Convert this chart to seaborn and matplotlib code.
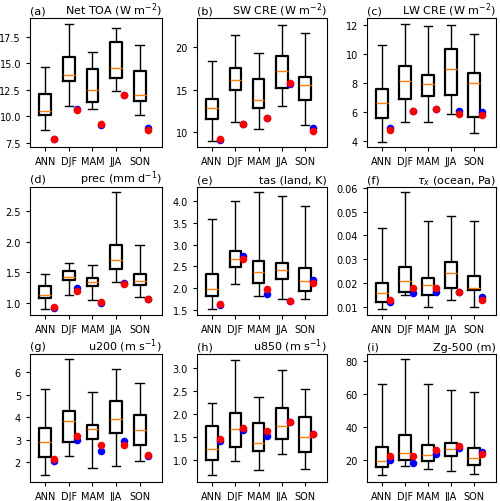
#!/usr/bin/env python3
"""Seasonal spread of model biases: box = ensemble, dots = two reference runs."""

import numpy as np
import pandas as pd
import matplotlib
matplotlib.use('Agg')
import matplotlib.pyplot as plt
import seaborn as sns

seasons = ['ANN', 'DJF', 'MAM', 'JJA', 'SON']

# box stats per season: [whisker low, q1, median, q3, whisker high]
net_toa_stats = [[8.65, 10.06, 10.53, 12.10, 14.62], [10.94, 13.36, 13.93, 15.63, 18.70],
                 [10.63, 11.29, 12.48, 14.47, 16.04], [12.42, 13.62, 14.56, 16.98, 18.30],
                 [10.06, 11.42, 12.01, 14.31, 16.76]]
net_toa_blue = [7.86, 10.70, 9.18, 12.04, 8.90]
net_toa_red = [7.86, 10.55, 9.28, 11.98, 8.65]

sw_cre_stats = [[9.00, 11.55, 12.92, 13.90, 18.33], [11.24, 15.00, 16.18, 17.55, 21.47],
                [10.37, 12.84, 13.78, 16.25, 19.27], [13.12, 15.27, 17.20, 18.92, 22.65],
                [10.88, 13.75, 15.55, 16.53, 21.63]]
sw_cre_blue = [9.12, 10.96, 11.65, 15.63, 10.49]
sw_cre_red = [9.20, 10.96, 11.70, 15.75, 10.18]

lw_cre_stats = [[3.98, 5.63, 6.62, 7.56, 10.64], [5.33, 6.90, 8.14, 9.15, 12.05],
                [5.33, 7.08, 7.95, 8.53, 11.88], [5.90, 7.15, 8.99, 10.34, 11.98],
                [4.60, 5.70, 8.02, 8.67, 11.36]]
lw_cre_blue = [4.92, 6.09, 6.20, 6.05, 6.02]
lw_cre_red = [4.76, 6.09, 6.20, 5.90, 5.79]

prec_stats = [[0.90, 1.08, 1.13, 1.27, 1.48], [1.12, 1.37, 1.43, 1.52, 1.66],
              [1.04, 1.27, 1.34, 1.41, 1.62], [1.34, 1.56, 1.71, 1.95, 2.82],
              [1.09, 1.29, 1.36, 1.47, 1.95]]
prec_blue = [0.92, 1.24, 1.00, 1.32, 1.07]
prec_red = [0.93, 1.20, 1.02, 1.31, 1.07]

tas_stats = [[1.52, 1.82, 1.98, 2.32, 3.59], [2.09, 2.48, 2.66, 2.85, 4.00],
             [1.82, 2.12, 2.36, 2.62, 4.21], [1.75, 2.21, 2.42, 2.57, 4.12],
             [1.74, 1.94, 2.17, 2.47, 3.89]]
tas_blue = [1.60, 2.74, 1.87, 1.71, 2.18]
tas_red = [1.64, 2.68, 1.99, 1.71, 2.12]

taux_stats = [[0.0090, 0.0120, 0.0159, 0.0200, 0.0431], [0.0149, 0.0160, 0.0210, 0.0269, 0.0582],
              [0.0100, 0.0149, 0.0190, 0.0220, 0.0462], [0.0130, 0.0180, 0.0240, 0.0290, 0.0480],
              [0.0100, 0.0170, 0.0180, 0.0230, 0.0462]]
taux_blue = [0.0121, 0.0159, 0.0160, 0.0160, 0.0141]
taux_red = [0.0130, 0.0180, 0.0180, 0.0160, 0.0130]

u200_stats = [[1.41, 2.23, 2.88, 3.52, 5.25], [2.27, 2.88, 3.81, 4.27, 6.60],
              [1.75, 3.03, 3.46, 3.66, 5.13], [1.81, 3.29, 3.90, 4.71, 6.13],
              [2.04, 2.75, 3.43, 4.10, 5.53]]
u200_blue = [2.05, 2.96, 2.50, 2.94, 2.27]
u200_red = [2.15, 3.17, 2.75, 2.74, 2.33]

u850_stats = [[0.66, 1.00, 1.24, 1.72, 2.23], [0.96, 1.28, 1.66, 2.02, 3.18],
              [0.78, 1.19, 1.36, 1.80, 2.36], [1.12, 1.44, 1.74, 2.12, 2.95],
              [0.79, 1.17, 1.49, 1.93, 2.54]]
u850_blue = [1.40, 1.65, 1.52, 1.82, 1.55]
u850_red = [1.45, 1.69, 1.63, 1.82, 1.55]

zg500_stats = [[10.8, 15.7, 19.7, 27.9, 66.2], [16.5, 20.3, 24.3, 35.2, 81.2],
               [14.6, 19.3, 22.9, 29.5, 66.2], [13.6, 22.3, 26.9, 30.5, 62.9],
               [11.8, 17.1, 21.1, 27.5, 61.7]]
zg500_blue = [20.3, 18.3, 23.9, 27.3, 25.1]
zg500_red = [22.3, 22.3, 26.1, 28.5, 23.5]

panels = [
    ('(a)', 'Net TOA (W m$^{-2}$)', net_toa_stats, net_toa_blue, net_toa_red, (7.08, 19.28)),
    ('(b)', 'SW CRE (W m$^{-2}$)', sw_cre_stats, sw_cre_blue, sw_cre_red, (8.29, 23.43)),
    ('(c)', 'LW CRE (W m$^{-2}$)', lw_cre_stats, lw_cre_blue, lw_cre_red, (3.61, 12.46)),
    ('(d)', 'prec (mm d$^{-1}$)', prec_stats, prec_blue, prec_red, (0.80, 2.90)),
    ('(e)', 'tas (land, K)', tas_stats, tas_blue, tas_red, (1.38, 4.33)),
    ('(f)', r'$\tau_x$ (ocean, Pa)', taux_stats, taux_blue, taux_red, (0.0065, 0.0604)),
    ('(g)', 'u200 (m s$^{-1}$)', u200_stats, u200_blue, u200_red, (1.11, 6.81)),
    ('(h)', 'u850 (m s$^{-1}$)', u850_stats, u850_blue, u850_red, (0.51, 3.30)),
    ('(i)', 'Zg-500 (m)', zg500_stats, zg500_blue, zg500_red, (6.8, 84.5)),
]

# axes boxes in pixels (left, right) / (top, bottom)
col_px = [(30, 162), (197, 327), (367, 496)]
row_px = [(19, 148), (188, 316), (355, 483)]
W, H = 500, 502

fig = plt.figure(figsize=(5.0, 5.02), dpi=100)

for k, (tag, title, stats, blue, red, ylim) in enumerate(panels):
    r, c = divmod(k, 3)
    (x0, x1), (y0, y1) = col_px[c], row_px[r]
    ax = fig.add_axes([x0 / W, 1 - y1 / H, (x1 - x0) / W, (y1 - y0) / H])

    # five points per season -> percentiles 0/25/50/75/100 hit the stats exactly
    df = pd.DataFrame({
        'season': np.repeat(seasons, 5),
        'value': np.concatenate(stats),
    })
    sns.boxplot(data=df, x='season', y='value', ax=ax, order=seasons,
                whis=(0, 100), width=0.5, fill=False, color='black',
                capwidths=0.35,
                boxprops=dict(color='black', linewidth=1.6),
                whiskerprops=dict(color='black', linewidth=1.0),
                capprops=dict(color='black', linewidth=1.0),
                medianprops=dict(color='#ff7f0e', linewidth=1.0))

    xpos = np.arange(len(seasons)) + 0.35
    ax.scatter(xpos, blue, color='blue', s=30, zorder=3, linewidths=0)
    ax.scatter(xpos, red, color='red', s=30, zorder=4, linewidths=0)

    ax.set_xlim(-0.65, 4.95)
    ax.set_ylim(*ylim)
    ax.set_xlabel('')
    ax.set_ylabel('')
    ax.tick_params(labelsize=7, length=3, width=0.8)
    ax.set_title(tag, loc='left', fontsize=8, pad=3)
    ax.set_title(title, loc='right', fontsize=8, pad=3)

plt.savefig('out.png', dpi=100)
print("Saved: out.png")
